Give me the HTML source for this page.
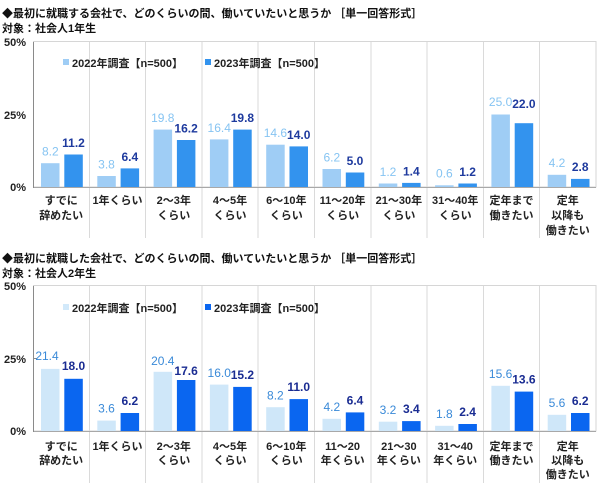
<!DOCTYPE html>
<html><head><meta charset="utf-8"><style>
html,body{margin:0;padding:0;background:#fff;}
svg{display:block;}
text{font-family:"Liberation Sans","Noto Sans CJK JP",sans-serif;}
.t{font-size:11px;font-weight:bold;fill:#111;}
.ax{font-size:11px;font-weight:bold;fill:#222;}
.lg{font-size:11px;font-weight:bold;fill:#222;}
.cat{font-size:11px;font-weight:bold;fill:#222;text-anchor:middle;}
.v{font-size:12px;text-anchor:middle;}
.l1{fill:#86c4f2;}
.d1{fill:#1e3a9e;font-weight:bold;}
.l2{fill:#3a8ad8;}
.d2{fill:#1a2c92;font-weight:bold;}
.grid{stroke:#dadada;stroke-width:1;shape-rendering:crispEdges;}
</style></head><body>
<svg width="600" height="490" viewBox="0 0 600 490" xmlns="http://www.w3.org/2000/svg">
<!-- ===== Chart 1 ===== -->
<text class="t" x="2" y="17">◆最初に就職する会社で、どのくらいの間、働いていたいと思うか ［単一回答形式］</text>
<text class="t" x="2" y="32">対象：社会人1年生</text>
<text class="ax" x="26" y="46" text-anchor="end">50%</text>
<text class="ax" x="26" y="119" text-anchor="end">25%</text>
<text class="ax" x="26" y="191" text-anchor="end">0%</text>
<rect x="33.5" y="41.5" width="562.5" height="145.5" fill="none" stroke="#d6d6d6"/>
<g class="grid">
<line x1="89.3" y1="42" x2="89.3" y2="238"/><line x1="145.6" y1="42" x2="145.6" y2="238"/>
<line x1="201.9" y1="42" x2="201.9" y2="238"/><line x1="258.2" y1="42" x2="258.2" y2="238"/>
<line x1="314.5" y1="42" x2="314.5" y2="238"/><line x1="370.8" y1="42" x2="370.8" y2="238"/>
<line x1="427.1" y1="42" x2="427.1" y2="238"/><line x1="483.4" y1="42" x2="483.4" y2="238"/>
<line x1="539.7" y1="42" x2="539.7" y2="238"/>
</g>
<rect x="63" y="59" width="6" height="6" fill="#9fcdf5"/>
<text class="lg" x="72" y="67">2022年調査【n=500】</text>
<rect x="205" y="59" width="6" height="6" fill="#3393ee"/>
<text class="lg" x="214" y="67">2023年調査【n=500】</text>
<g fill="#9fcdf5">
<rect x="41" y="163.2" width="18.5" height="23.8"/>
<rect x="97.3" y="176" width="18.5" height="11"/>
<rect x="153.6" y="129.6" width="18.5" height="57.4"/>
<rect x="209.9" y="139.4" width="18.5" height="47.6"/>
<rect x="266.2" y="144.7" width="18.5" height="42.3"/>
<rect x="322.5" y="169" width="18.5" height="18"/>
<rect x="378.8" y="183.5" width="18.5" height="3.5"/>
<rect x="435.1" y="185.3" width="18.5" height="1.7"/>
<rect x="491.4" y="114.5" width="18.5" height="72.5"/>
<rect x="547.7" y="174.8" width="18.5" height="12.2"/>
</g>
<g fill="#3393ee">
<rect x="64.3" y="154.5" width="18.5" height="32.5"/>
<rect x="120.6" y="168.4" width="18.5" height="18.6"/>
<rect x="176.9" y="140" width="18.5" height="47"/>
<rect x="233.2" y="129.6" width="18.5" height="57.4"/>
<rect x="289.5" y="146.4" width="18.5" height="40.6"/>
<rect x="345.8" y="172.5" width="18.5" height="14.5"/>
<rect x="402.1" y="182.9" width="18.5" height="4.1"/>
<rect x="458.4" y="183.5" width="18.5" height="3.5"/>
<rect x="514.7" y="123.2" width="18.5" height="63.8"/>
<rect x="571" y="178.9" width="18.5" height="8.1"/>
</g>
<line x1="33" y1="187.5" x2="596" y2="187.5" stroke="#a8a8a8"/>
<line x1="33.5" y1="42" x2="33.5" y2="188" stroke="#8a8a8a"/>
<g class="v l1">
<text x="50.3" y="155.5">8.2</text>
<text x="106.5" y="168.5">3.8</text>
<text x="162.8" y="122">19.8</text>
<text x="219.2" y="132">16.4</text>
<text x="275.4" y="137">14.6</text>
<text x="331.8" y="161.5">6.2</text>
<text x="388" y="176">1.2</text>
<text x="444.4" y="177.5">0.6</text>
<text x="500.6" y="106">25.0</text>
<text x="557" y="167">4.2</text>
</g>
<g class="v d1">
<text x="73.5" y="147">11.2</text>
<text x="129.8" y="161">6.4</text>
<text x="186.1" y="132.5">16.2</text>
<text x="242.4" y="122">19.8</text>
<text x="298.7" y="139">14.0</text>
<text x="355" y="165">5.0</text>
<text x="411.3" y="175.5">1.4</text>
<text x="467.6" y="176">1.2</text>
<text x="523.9" y="108">22.0</text>
<text x="580.2" y="171">2.8</text>
</g>
<g class="cat">
<text x="61.2" y="204">すでに</text><text x="61.2" y="219">辞めたい</text>
<text x="117.5" y="204">1年くらい</text>
<text x="173.8" y="204">2～3年</text><text x="173.8" y="219">くらい</text>
<text x="230" y="204">4～5年</text><text x="230" y="219">くらい</text>
<text x="286.3" y="204">6～10年</text><text x="286.3" y="219">くらい</text>
<text x="342.6" y="204">11～20年</text><text x="342.6" y="219">くらい</text>
<text x="398.9" y="204">21～30年</text><text x="398.9" y="219">くらい</text>
<text x="455.2" y="204">31～40年</text><text x="455.2" y="219">くらい</text>
<text x="511.5" y="204">定年まで</text><text x="511.5" y="219">働きたい</text>
<text x="567.8" y="204">定年</text><text x="567.8" y="219">以降も</text><text x="567.8" y="234">働きたい</text>
</g>

<!-- ===== Chart 2 ===== -->
<text class="t" x="2" y="262">◆最初に就職した会社で、どのくらいの間、働いていたいと思うか ［単一回答形式］</text>
<text class="t" x="2" y="277">対象：社会人2年生</text>
<text class="ax" x="26" y="290" text-anchor="end">50%</text>
<text class="ax" x="26" y="363" text-anchor="end">25%</text>
<text class="ax" x="26" y="435" text-anchor="end">0%</text>
<rect x="33.5" y="285.5" width="562.5" height="145.5" fill="none" stroke="#d6d6d6"/>
<g class="grid">
<line x1="89.3" y1="286" x2="89.3" y2="483"/><line x1="145.6" y1="286" x2="145.6" y2="483"/>
<line x1="201.9" y1="286" x2="201.9" y2="483"/><line x1="258.2" y1="286" x2="258.2" y2="483"/>
<line x1="314.5" y1="286" x2="314.5" y2="483"/><line x1="370.8" y1="286" x2="370.8" y2="483"/>
<line x1="427.1" y1="286" x2="427.1" y2="483"/><line x1="483.4" y1="286" x2="483.4" y2="483"/>
<line x1="539.7" y1="286" x2="539.7" y2="483"/>
</g>
<rect x="63" y="304" width="6" height="6" fill="#d2e9fa"/>
<text class="lg" x="72" y="312">2022年調査【n=500】</text>
<rect x="205" y="304" width="6" height="6" fill="#0a66f0"/>
<text class="lg" x="214" y="312">2023年調査【n=500】</text>
<g fill="#cfe7f9">
<rect x="41" y="368.9" width="18.5" height="62.1"/>
<rect x="97.3" y="420.6" width="18.5" height="10.4"/>
<rect x="153.6" y="371.8" width="18.5" height="59.2"/>
<rect x="209.9" y="384.6" width="18.5" height="46.4"/>
<rect x="266.2" y="407.2" width="18.5" height="23.8"/>
<rect x="322.5" y="418.8" width="18.5" height="12.2"/>
<rect x="378.8" y="421.7" width="18.5" height="9.3"/>
<rect x="435.1" y="425.8" width="18.5" height="5.2"/>
<rect x="491.4" y="385.8" width="18.5" height="45.2"/>
<rect x="547.7" y="414.8" width="18.5" height="16.2"/>
</g>
<g fill="#0a66f0">
<rect x="64.3" y="378.8" width="18.5" height="52.2"/>
<rect x="120.6" y="413" width="18.5" height="18"/>
<rect x="176.9" y="380" width="18.5" height="51"/>
<rect x="233.2" y="386.9" width="18.5" height="44.1"/>
<rect x="289.5" y="399.1" width="18.5" height="31.9"/>
<rect x="345.8" y="412.4" width="18.5" height="18.6"/>
<rect x="402.1" y="421.1" width="18.5" height="9.9"/>
<rect x="458.4" y="424" width="18.5" height="7"/>
<rect x="514.7" y="391.6" width="18.5" height="39.4"/>
<rect x="571" y="413" width="18.5" height="18"/>
</g>
<line x1="33" y1="431.5" x2="596" y2="431.5" stroke="#a8a8a8"/>
<line x1="33.5" y1="286" x2="33.5" y2="432" stroke="#8a8a8a"/>
<line x1="33" y1="358.5" x2="37" y2="358.5" stroke="#8a8a8a"/>
<g class="v l2">
<text x="47" y="360">21.4</text>
<text x="106.5" y="412.5">3.6</text>
<text x="162.8" y="365">20.4</text>
<text x="219.2" y="377">16.0</text>
<text x="275.4" y="399.5">8.2</text>
<text x="331.8" y="411">4.2</text>
<text x="388" y="414">3.2</text>
<text x="444.4" y="418">1.8</text>
<text x="500.6" y="378">15.6</text>
<text x="557" y="407">5.6</text>
</g>
<g class="v d2">
<text x="73.5" y="370">18.0</text>
<text x="129.8" y="405">6.2</text>
<text x="186.1" y="375">17.6</text>
<text x="242.4" y="379">15.2</text>
<text x="298.7" y="391">11.0</text>
<text x="355" y="404.5">6.4</text>
<text x="411.3" y="413">3.4</text>
<text x="467.6" y="416">2.4</text>
<text x="523.9" y="383.5">13.6</text>
<text x="580.2" y="405">6.2</text>
</g>
<g class="cat">
<text x="61.2" y="450">すでに</text><text x="61.2" y="464">辞めたい</text>
<text x="117.5" y="450">1年くらい</text>
<text x="173.8" y="450">2～3年</text><text x="173.8" y="464">くらい</text>
<text x="230" y="450">4～5年</text><text x="230" y="464">くらい</text>
<text x="286.3" y="450">6～10年</text><text x="286.3" y="464">くらい</text>
<text x="342.6" y="450">11～20</text><text x="342.6" y="464">年くらい</text>
<text x="398.9" y="450">21～30</text><text x="398.9" y="464">年くらい</text>
<text x="455.2" y="450">31～40</text><text x="455.2" y="464">年くらい</text>
<text x="511.5" y="450">定年まで</text><text x="511.5" y="464">働きたい</text>
<text x="567.8" y="450">定年</text><text x="567.8" y="464">以降も</text><text x="567.8" y="478">働きたい</text>
</g>
</svg>
</body></html>
